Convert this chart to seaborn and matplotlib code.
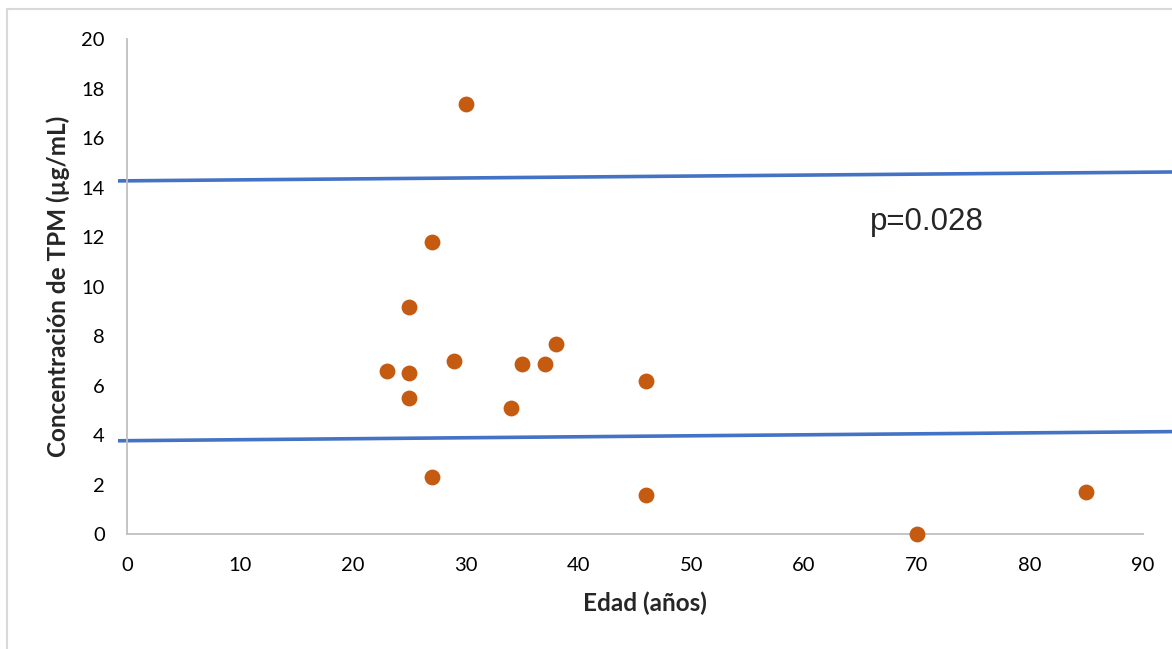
import seaborn as sns
import matplotlib.pyplot as plt
from matplotlib.patches import Rectangle

# data
edad = [23, 25, 25, 25, 27, 27, 29, 30, 34, 35, 37, 38, 46, 46, 70, 85]
tpm = [6.6, 9.2, 6.5, 5.5, 11.8, 2.3, 7.0, 17.4, 5.1, 6.9, 6.9, 7.7, 6.2, 1.6, 0.0, 1.7]

# the two limit lines (start / end)
line_x = [-0.8, 92.6]
upper_y = [14.28, 14.64]
lower_y = [3.78, 4.15]

x_ticks = [0, 10, 20, 30, 40, 50, 60, 70, 80, 90]
y_ticks = [0, 2, 4, 6, 8, 10, 12, 14, 16, 18, 20]

sns.set_style("white")
plt.rcParams['font.family'] = ['Lato', 'DejaVu Sans']

fig = plt.figure(figsize=(11.72, 6.49), dpi=100)
# light grey chart border (cut off on right and bottom like the original)
fig.patches.append(Rectangle((7 / 1172, -0.1), 1.2, (649 - 9) / 649 + 0.1,
                             transform=fig.transFigure, fill=False,
                             edgecolor='#D9D9D9', linewidth=1.5))

ax = fig.add_axes([118 / 1172, 0.1767, 1 - 118 / 1172, 0.9394 - 0.1767])
ax.patch.set_alpha(0)

sns.lineplot(x=line_x, y=upper_y, color='#4472C4', linewidth=2.6, ax=ax)
sns.lineplot(x=line_x, y=lower_y, color='#4472C4', linewidth=2.6, ax=ax)
sns.scatterplot(x=edad, y=tpm, color='#C55A11', s=130, linewidth=0, ax=ax,
                clip_on=False, zorder=3)

ax.set_xlim(line_x[0], line_x[1])
ax.set_ylim(0, 20)
ax.set_xticks(x_ticks)
ax.set_yticks(y_ticks)

for s in ['top', 'right']:
    ax.spines[s].set_visible(False)
ax.spines['left'].set_position(('data', 0))
ax.spines['bottom'].set_bounds(0, 90)
for s in ['left', 'bottom']:
    ax.spines[s].set_color('#BFBFBF')
    ax.spines[s].set_linewidth(1.3)

ax.tick_params(axis='y', length=0, pad=16, labelsize=14.5, colors='black')
ax.tick_params(axis='x', length=0, pad=16, labelsize=14.5, colors='black')

ax.set_xlabel('Edad (años)', fontsize=17.5, fontweight='bold', labelpad=13)
ax.set_ylabel('Concentración de TPM (µg/mL)', fontsize=17.5, fontweight='bold')
ax.yaxis.set_label_coords(-0.046, 0.5)

ax.text(65.8, 12.6, 'p=0.028', fontsize=22.5, family=['Liberation Sans', 'DejaVu Sans'],
        va='center', ha='left')

plt.savefig('out.png', dpi=100)
